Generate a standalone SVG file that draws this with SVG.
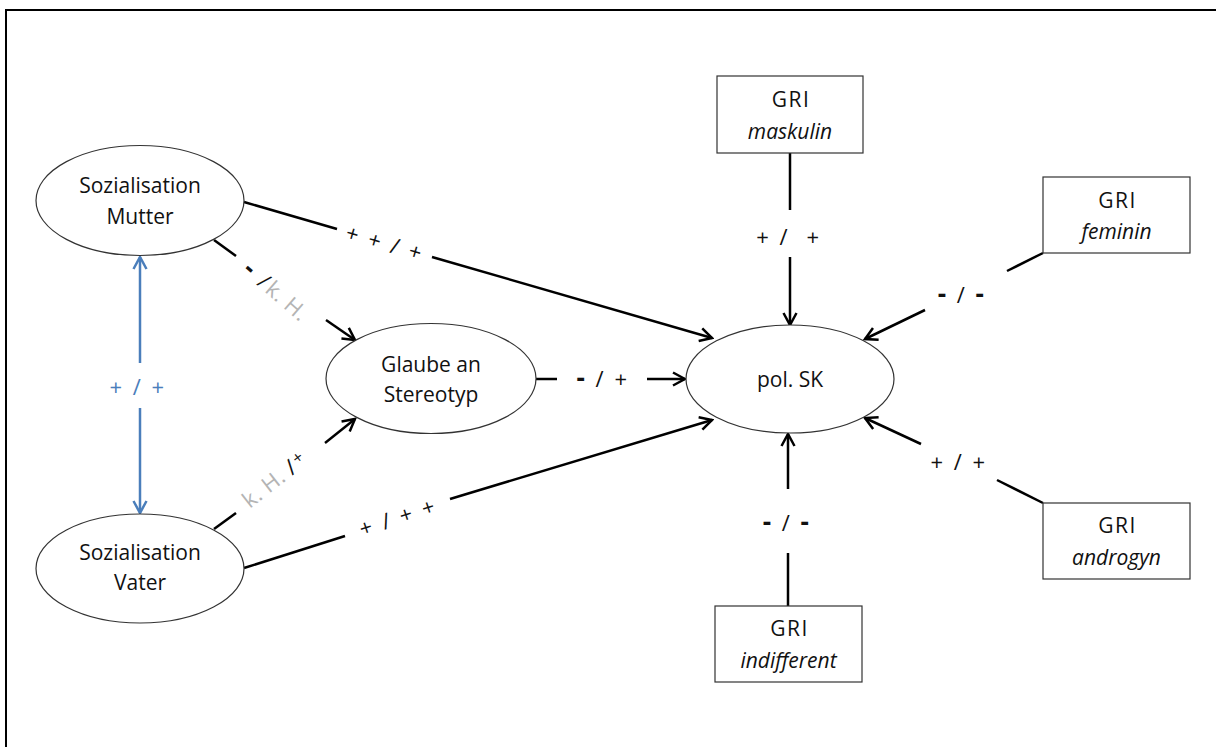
<svg xmlns="http://www.w3.org/2000/svg" width="1216" height="747" viewBox="0 0 1216 747">
<style>
.node{fill:#fff;stroke:#333;stroke-width:1.2}
.t{font-family:"Open Sans","Liberation Sans",sans-serif;font-size:21px;fill:#111;text-anchor:middle}
.g{letter-spacing:1.5px}
.i{font-style:italic}
.lbl{font-family:"Open Sans","Liberation Sans",sans-serif;font-size:22px;fill:#111;text-anchor:middle;white-space:pre;letter-spacing:2.5px}
.d{font-weight:bold;font-size:26px}
.blue{fill:#4A7EBB}
.grey{fill:#B4B4B4;letter-spacing:0.5px}
.c{stroke:#000;stroke-width:2.5;fill:none}
.cb{stroke:#4A7EBB;stroke-width:2.5;fill:none}
</style>
<defs>
<marker id="ah" viewBox="0 0 16 16" refX="14" refY="8" markerWidth="16" markerHeight="16" markerUnits="userSpaceOnUse" orient="auto">
<path d="M2,1.5 L14,8 L2,14.5" fill="none" stroke="#000" stroke-width="2.5"/>
</marker>
<marker id="ahb" viewBox="0 0 16 16" refX="14" refY="8" markerWidth="16" markerHeight="16" markerUnits="userSpaceOnUse" orient="auto">
<path d="M2,1.5 L14,8 L2,14.5" fill="none" stroke="#4A7EBB" stroke-width="2.5"/>
</marker>
</defs>
<rect x="0" y="0" width="1216" height="747" fill="#fff"/>
<rect x="6" y="10" width="1300" height="800" fill="none" stroke="#000" stroke-width="2"/>

<g id="connectors">
<line class="c" x1="244" y1="202" x2="337" y2="229"/>
<line class="c" x1="432" y1="257" x2="712" y2="338" marker-end="url(#ah)"/>
<line class="c" x1="244" y1="568" x2="345" y2="536"/>
<line class="c" x1="450" y1="499" x2="712" y2="420" marker-end="url(#ah)"/>
<line class="c" x1="214" y1="240" x2="236" y2="256"/>
<line class="c" x1="326" y1="320" x2="355" y2="340" marker-end="url(#ah)"/>
<line class="c" x1="214" y1="529" x2="236" y2="513"/>
<line class="c" x1="325" y1="443" x2="355" y2="419" marker-end="url(#ah)"/>
<line class="c" x1="536" y1="379" x2="557" y2="379"/>
<line class="c" x1="647" y1="379" x2="685" y2="379" marker-end="url(#ah)"/>
<line class="c" x1="790" y1="153" x2="790" y2="210"/>
<line class="c" x1="790" y1="257" x2="790" y2="325" marker-end="url(#ah)"/>
<line class="c" x1="1043" y1="253" x2="1007" y2="271"/>
<line class="c" x1="925" y1="310" x2="865" y2="339" marker-end="url(#ah)"/>
<line class="c" x1="1043" y1="503" x2="997" y2="480"/>
<line class="c" x1="921" y1="444" x2="865" y2="418" marker-end="url(#ah)"/>
<line class="c" x1="788" y1="606" x2="788" y2="553"/>
<line class="c" x1="788" y1="489" x2="788" y2="434" marker-end="url(#ah)"/>
<line class="cb" x1="140" y1="363" x2="140" y2="257" marker-end="url(#ahb)"/>
<line class="cb" x1="140" y1="408" x2="140" y2="513" marker-end="url(#ahb)"/>

<text class="lbl" transform="translate(385,243) rotate(16)" dy="8">+ + / +</text>
<text class="lbl" transform="translate(398,517) rotate(-18)" dy="8">+ / + +</text>
<text class="lbl" transform="translate(276,291) rotate(41)" dy="8"><tspan class="d">-</tspan> /<tspan class="grey">k. H.</tspan></text>
<text class="lbl" transform="translate(275,479) rotate(-38)" dy="8"><tspan class="grey">k. H. </tspan>/<tspan font-size="17" dy="-5">+</tspan></text>
<text class="lbl" x="603" y="387"><tspan class="d">-</tspan> / +</text>
<text class="lbl" x="789" y="245">+ /  +</text>
<text class="lbl" x="962" y="303"><tspan class="d">-</tspan> / <tspan class="d">-</tspan></text>
<text class="lbl" x="959" y="470">+ / +</text>
<text class="lbl" x="787" y="531"><tspan class="d">-</tspan> / <tspan class="d">-</tspan></text>
<text class="lbl blue" x="138" y="395">+ / +</text>
</g>

<g id="mutter">
<ellipse class="node" cx="140" cy="200.5" rx="104" ry="55"/>
<text class="t" x="140" y="193">Sozialisation</text>
<text class="t" x="140" y="224">Mutter</text>
</g>
<g id="vater">
<ellipse class="node" cx="140" cy="568.5" rx="104" ry="54.5"/>
<text class="t" x="140" y="560">Sozialisation</text>
<text class="t" x="140" y="590">Vater</text>
</g>
<g id="glaube">
<ellipse class="node" cx="431" cy="378.5" rx="105" ry="55"/>
<text class="t" x="431" y="372">Glaube an</text>
<text class="t" x="431" y="402">Stereotyp</text>
</g>
<g id="polsk">
<ellipse class="node" cx="790" cy="379" rx="104" ry="54"/>
<text class="t" x="790" y="387">pol. SK</text>
</g>
<g id="maskulin">
<rect class="node" x="717" y="76" width="146" height="77"/>
<text class="t g" x="791" y="107">GRI</text>
<text class="t i" x="790" y="139">maskulin</text>
</g>
<g id="feminin">
<rect class="node" x="1043" y="177" width="147" height="76"/>
<text class="t g" x="1117.5" y="208">GRI</text>
<text class="t i" x="1116.5" y="239">feminin</text>
</g>
<g id="androgyn">
<rect class="node" x="1043" y="503" width="147" height="76"/>
<text class="t g" x="1117.5" y="533">GRI</text>
<text class="t i" x="1116.5" y="565">androgyn</text>
</g>
<g id="indifferent">
<rect class="node" x="715" y="606" width="147" height="76"/>
<text class="t g" x="789.5" y="636">GRI</text>
<text class="t i" x="788.5" y="668">indifferent</text>
</g>
</svg>
